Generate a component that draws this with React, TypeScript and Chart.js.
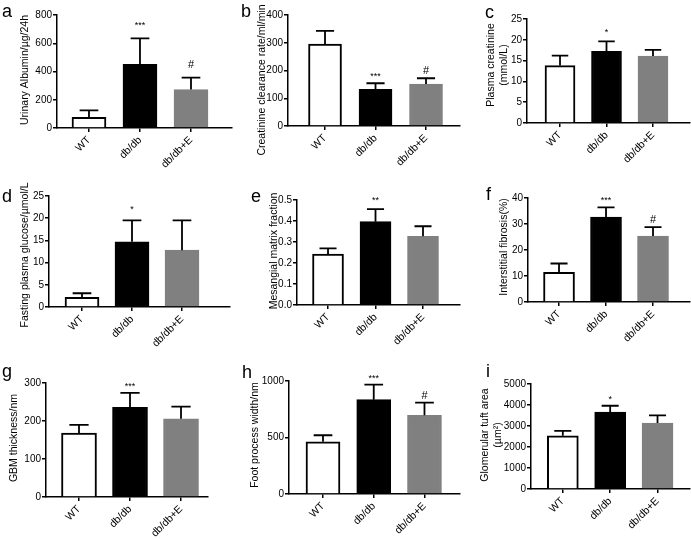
import React, { useEffect, useRef } from "react";
import { Chart, registerables } from "chart.js";

Chart.register(...registerables);

// ---------------- data ----------------
const groups = ["WT", "db/db", "db/db+E"];

const albuminMean = [75, 450, 272];
const albuminErr = [50, 184, 85];
const albuminMarks = ["", "***", "#"];
const albuminTicks = [0, 200, 400, 600, 800];

const clearanceMean = [295, 132, 151];
const clearanceErr = [48, 22, 21];
const clearanceMarks = ["", "***", "#"];
const clearanceTicks = [0, 100, 200, 300, 400];

const creatinineMean = [13.8, 17.2, 16.1];
const creatinineErr = [2.4, 2.4, 1.5];
const creatinineMarks = ["", "*", ""];
const creatinineTicks = [0, 5, 10, 15, 20, 25];

const glucoseMean = [2.2, 14.7, 12.8];
const glucoseErr = [0.9, 4.8, 6.7];
const glucoseMarks = ["", "*", ""];
const glucoseTicks = [0, 5, 10, 15, 20, 25];

const mesangialMean = [0.243, 0.397, 0.327];
const mesangialErr = [0.027, 0.06, 0.048];
const mesangialMarks = ["", "**", ""];
const mesangialTicks = [0, 0.1, 0.2, 0.3, 0.4, 0.5];

const fibrosisMean = [11.4, 32.7, 25.4];
const fibrosisErr = [3.4, 3.7, 3.4];
const fibrosisMarks = ["", "***", "#"];
const fibrosisTicks = [0, 10, 20, 30, 40];

const gbmMean = [168, 236, 206];
const gbmErr = [22, 38, 32];
const gbmMarks = ["", "***", ""];
const gbmTicks = [0, 100, 200, 300];

const footMean = [462, 835, 697];
const footErr = [58, 133, 112];
const footMarks = ["", "***", "#"];
const footTicks = [0, 500, 1000];

const tuftMean = [2532, 3662, 3137];
const tuftErr = [239, 303, 366];
const tuftMarks = ["", "*", ""];
const tuftTicks = [0, 1000, 2000, 3000, 4000, 5000];

// ---------------- layout / style ----------------
const W = 691;
const H = 539;
const FONT = "'Liberation Sans', Arial, sans-serif";
const TITLE_SIZE = 10.5;
const TITLE_LH = 12.8;
const Y_W = 32;
const barColors = ["#ffffff", "#000000", "#808080"];
const barBorders = ["#000000", "#000000", "#808080"];

type Panel = {
  letter: string;
  lx: number;
  ly: number;
  title: string[];
  mean: number[];
  err: number[];
  marks: string[];
  ticks: number[];
  dec: number;
  L: number;
  T: number;
  R: number;
  B: number;
  titleX: number;
  titleY: number;
  xMin: number;
  xMax: number;
  barW: number;
  gap: number;
};

const panels: Panel[] = [
  { letter: "a", lx: 2, ly: 2, title: ["Urinary Albumin/µg/24h"], mean: albuminMean, err: albuminErr, marks: albuminMarks, ticks: albuminTicks, dec: 0,
    L: 57, T: 15, R: 232, B: 128, titleX: 25, titleY: 70, xMin: 0.373, xMax: 3.804, barW: 34, gap: 10 },
  { letter: "b", lx: 241, ly: 2, title: ["Creatinine clearance rate/ml/min"], mean: clearanceMean, err: clearanceErr, marks: clearanceMarks, ticks: clearanceTicks, dec: 0,
    L: 288, T: 15, R: 460, B: 126, titleX: 262, titleY: 80, xMin: 0.267, xMax: 3.673, barW: 33, gap: 4 },
  { letter: "c", lx: 485, ly: 3, title: ["Plasma creatinine", "(mmol/L)"], mean: creatinineMean, err: creatinineErr, marks: creatinineMarks, ticks: creatinineTicks, dec: 0,
    L: 527, T: 19, R: 690, B: 123, titleX: 491.5, titleY: 65, xMin: 0.29, xMax: 3.796, barW: 30, gap: 6 },
  { letter: "d", lx: 2, ly: 187, title: ["Fasting plasma glucose/µmol/L"], mean: glucoseMean, err: glucoseErr, marks: glucoseMarks, ticks: glucoseTicks, dec: 0,
    L: 49, T: 196, R: 230, B: 307, titleX: 25, titleY: 255, xMin: 0.34, xMax: 3.96, barW: 34, gap: 8 },
  { letter: "e", lx: 251, ly: 187, title: ["Mesangial matrix fraction"], mean: mesangialMean, err: mesangialErr, marks: mesangialMarks, ticks: mesangialTicks, dec: 1,
    L: 297, T: 200, R: 460, B: 305, titleX: 274, titleY: 251, xMin: 0.347, xMax: 3.779, barW: 31, gap: 6 },
  { letter: "f", lx: 486, ly: 185, title: ["Interstitial fibrosis(%)"], mean: fibrosisMean, err: fibrosisErr, marks: fibrosisMarks, ticks: fibrosisTicks, dec: 0,
    L: 528, T: 198, R: 690, B: 302, titleX: 504, titleY: 247, xMin: 0.34, xMax: 3.787, barW: 31, gap: 4 },
  { letter: "g", lx: 2, ly: 362, title: ["GBM thickness/nm"], mean: gbmMean, err: gbmErr, marks: gbmMarks, ticks: gbmTicks, dec: 0,
    L: 46, T: 383, R: 208, B: 497, titleX: 14, titleY: 438, xMin: 0.353, xMax: 3.529, barW: 35, gap: 4 },
  { letter: "h", lx: 242, ly: 363, title: ["Foot process width/nm"], mean: footMean, err: footErr, marks: footMarks, ticks: footTicks, dec: 0,
    L: 289, T: 381, R: 460, B: 494, titleX: 255, titleY: 435, xMin: 0.33, xMax: 3.7, barW: 34, gap: 4 },
  { letter: "i", lx: 486, ly: 362, title: ["Glomerular tuft area", "(µm²)"], mean: tuftMean, err: tuftErr, marks: tuftMarks, ticks: tuftTicks, dec: 0,
    L: 531, T: 384, R: 690, B: 489, titleX: 485.5, titleY: 435, xMin: 0.328, xMax: 3.686, barW: 31, gap: 4 },
];

function makeChart(canvas: HTMLCanvasElement, p: Panel) {
  const xH = H - p.B;
  const overlay = {
    id: "overlay_" + p.letter,
    afterDatasetsDraw(chart: any) {
      const ctx = chart.ctx as CanvasRenderingContext2D;
      const y = chart.scales.y;
      const meta = chart.getDatasetMeta(0);
      ctx.save();
      meta.data.forEach((bar: any, i: number) => {
        const base = y.getPixelForValue(p.mean[i]);
        const top = y.getPixelForValue(p.mean[i] + p.err[i]);
        const x = bar.x;
        const cap = p.barW * 0.55;
        ctx.strokeStyle = "#000";
        ctx.lineWidth = 1.8;
        ctx.beginPath();
        ctx.moveTo(x, base);
        ctx.lineTo(x, top);
        ctx.moveTo(x - cap / 2, top);
        ctx.lineTo(x + cap / 2, top);
        ctx.stroke();
        const m = p.marks[i];
        if (m) {
          const isHash = m.indexOf("#") >= 0;
          ctx.fillStyle = "#000";
          ctx.textAlign = "center";
          ctx.textBaseline = "alphabetic";
          ctx.font = (isHash ? "11px " : "9px ") + FONT;
          ctx.fillText(m, x, top - p.gap);
        }
      });
      ctx.restore();
    },
    afterDraw(chart: any) {
      const ctx = chart.ctx as CanvasRenderingContext2D;
      ctx.save();
      ctx.translate(p.titleX, p.titleY);
      ctx.rotate(-Math.PI / 2);
      ctx.fillStyle = "#000";
      ctx.textAlign = "center";
      ctx.textBaseline = "middle";
      ctx.font = TITLE_SIZE + "px " + FONT;
      p.title.forEach((line, j) => ctx.fillText(line, 0, j * TITLE_LH));
      ctx.restore();
    },
  };

  return new Chart(canvas, {
    type: "bar",
    data: {
      datasets: [
        {
          data: p.mean.map((v, i) => ({ x: i + 1, y: v })),
          backgroundColor: barColors,
          borderColor: barBorders,
          borderWidth: 2,
          barThickness: p.barW,
        },
      ],
    },
    options: {
      responsive: false,
      animation: false,
      events: [],
      layout: {
        padding: {
          left: p.L - Y_W,
          top: p.T,
          right: W - p.R,
          bottom: 0,
        },
      },
      plugins: {
        legend: { display: false },
        tooltip: { enabled: false },
        title: { display: false },
      },
      scales: {
        x: {
          type: "linear",
          min: p.xMin,
          max: p.xMax,
          offset: false,
          afterBuildTicks: (s: any) => {
            s.ticks = groups.map((_, i) => ({ value: i + 1 }));
          },
          afterFit: (s: any) => {
            s.height = xH;
          },
          ticks: {
            autoSkip: false,
            minRotation: 45,
            maxRotation: 45,
            padding: 2,
            color: "#000",
            font: { family: FONT, size: 10.5 },
            callback: (v: any) => groups[Math.round(Number(v)) - 1] ?? "",
          },
          grid: {
            display: true,
            offset: false,
            drawOnChartArea: false,
            drawTicks: true,
            tickLength: 4,
            color: "#000",
            lineWidth: 1.5,
          },
          border: { display: true, color: "#000", width: 1.5 },
        },
        y: {
          type: "linear",
          min: 0,
          max: p.ticks[p.ticks.length - 1],
          afterBuildTicks: (s: any) => {
            s.ticks = p.ticks.map((v) => ({ value: v }));
          },
          afterFit: (s: any) => {
            s.width = Y_W;
          },
          ticks: {
            padding: 1,
            color: "#000",
            font: { family: FONT, size: 10 },
            callback: (v: any) => Number(v).toFixed(p.dec),
          },
          grid: {
            display: true,
            drawOnChartArea: false,
            drawTicks: true,
            tickLength: 4,
            color: "#000",
            lineWidth: 1.5,
          },
          border: { display: true, color: "#000", width: 1.5 },
        },
      },
    },
    plugins: [overlay],
  } as any);
}

export default function App() {
  const refs = useRef<(HTMLCanvasElement | null)[]>([]);

  useEffect(() => {
    const charts = panels.map((p, i) => makeChart(refs.current[i]!, p));
    return () => charts.forEach((c) => c.destroy());
  }, []);

  return (
    <div
      style={{
        position: "absolute",
        left: 0,
        top: 0,
        width: W,
        height: H,
        background: "#fff",
        overflow: "hidden",
      }}
    >
      {panels.map((p, i) => (
        <canvas
          key={"c" + p.letter}
          ref={(el) => {
            refs.current[i] = el;
          }}
          width={W}
          height={H}
          style={{ position: "absolute", left: 0, top: 0, width: W, height: H }}
        />
      ))}
      {panels.map((p) => (
        <div
          key={"l" + p.letter}
          style={{
            position: "absolute",
            left: p.lx,
            top: p.ly,
            fontFamily: FONT,
            fontSize: 18,
            lineHeight: 1,
            color: "#000",
          }}
        >
          {p.letter}
        </div>
      ))}
    </div>
  );
}
